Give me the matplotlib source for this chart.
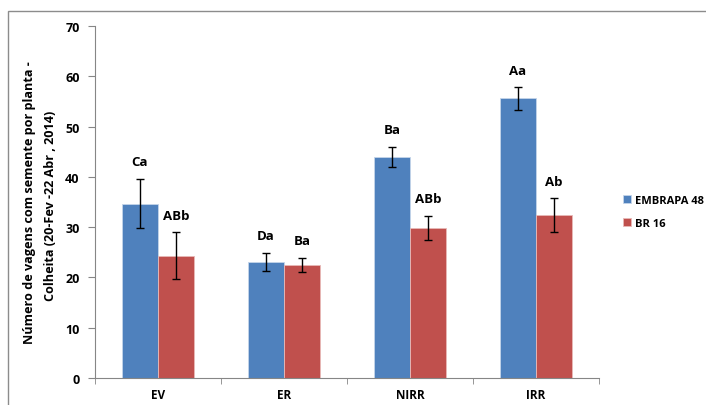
import numpy as np
import matplotlib.pyplot as plt
from matplotlib.patches import Rectangle

plt.rcParams['font.family'] = ['Open Sans', 'DejaVu Sans']
plt.rcParams['font.weight'] = 'bold'

# treatments and cultivars
categorias = ['EV', 'ER', 'NIRR', 'IRR']
embrapa = [34.7, 23.1, 44.0, 55.6]
embrapa_err = [4.9, 1.8, 1.95, 2.25]
br16 = [24.3, 22.5, 29.8, 32.4]
br16_err = [4.7, 1.4, 2.4, 3.3]
letras_embrapa = ['Ca', 'Da', 'Ba', 'Aa']
letras_br16 = ['ABb', 'Ba', 'ABb', 'Ab']

azul = '#4F81BD'
vermelho = '#C0504D'
cinza = '#868686'

fig = plt.figure(figsize=(7.06, 4.06), dpi=100)
ax = fig.add_axes([95/706, 1-379/406, 504/706, 352/406])

# chart border
fig.patches.append(Rectangle((8/706, -0.5), 2, 1.5 - 12/406,
                             transform=fig.transFigure, fill=False,
                             edgecolor='#8c8c8c', linewidth=1.0))

x = np.arange(len(categorias))
w = 0.286
b1 = ax.bar(x - w/2, embrapa, w, color=azul, edgecolor='#c5d5ea', linewidth=0.6,
            label='EMBRAPA 48', zorder=2)
b2 = ax.bar(x + w/2, br16, w, color=vermelho, edgecolor='#e8b9b8', linewidth=0.6,
            label='BR 16', zorder=2)
ax.errorbar(x - w/2, embrapa, yerr=embrapa_err, fmt='none', ecolor='black',
            elinewidth=1, capsize=3, capthick=1, zorder=3)
ax.errorbar(x + w/2, br16, yerr=br16_err, fmt='none', ecolor='black',
            elinewidth=1, capsize=3, capthick=1, zorder=3)

for xi, v, e, t in zip(x - w/2, embrapa, embrapa_err, letras_embrapa):
    ax.annotate(t, (xi, v + e), xytext=(0, 12.3), textcoords='offset points',
                ha='center', va='center', fontsize=9.5, fontweight='bold')
for xi, v, e, t in zip(x + w/2, br16, br16_err, letras_br16):
    ax.annotate(t, (xi, v + e), xytext=(0, 12.3), textcoords='offset points',
                ha='center', va='center', fontsize=9.5, fontweight='bold')

ax.set_xlim(-0.5, len(categorias) - 0.5)
ax.set_ylim(0, 70)
ax.set_yticks(np.arange(0, 71, 10))
ax.set_xticks(x)
ax.set_xticklabels(categorias)
ax.set_xticks(np.arange(-0.5, len(categorias)), minor=True)
ax.tick_params(axis='x', which='major', length=0, pad=7, labelsize=8.5)
ax.tick_params(axis='x', which='minor', length=4, color=cinza, direction='out')
ax.tick_params(axis='y', length=5, color=cinza, direction='out', pad=6, labelsize=9)
for s in ['top', 'right']:
    ax.spines[s].set_visible(False)
for s in ['left', 'bottom']:
    ax.spines[s].set_color(cinza)

fig.text(30/706, 1-203/406, 'Número de vagens com semente por planta -',
         rotation=90, ha='center', va='center', fontsize=9.1, fontweight='bold')
fig.text(51/706, 1-206/406, 'Colheita (20-Fev -22 Abr , 2014)',
         rotation=90, ha='center', va='center', fontsize=9.1, fontweight='bold')

fig.legend(handles=[b1, b2], loc='center left', bbox_to_anchor=(619/706, 1-213/406),
           frameon=False, fontsize=8, handlelength=0.7, handleheight=0.7,
           handletextpad=0.3, labelspacing=1.1, borderaxespad=0)

fig.savefig('out.png', dpi=100)
